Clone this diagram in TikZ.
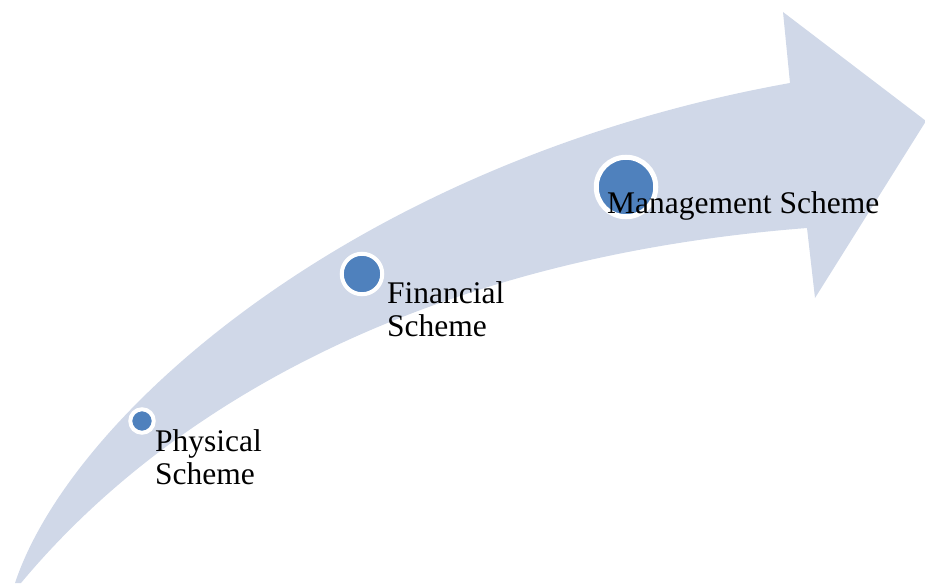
\documentclass[tikz,border=0pt]{standalone}
\usepackage{fontspec}
\setmainfont{Liberation Serif}
\definecolor{bandblue}{RGB}{208,216,232}
\definecolor{dotblue}{RGB}{79,129,189}
\begin{document}
\begin{tikzpicture}
      [x=1pt,y=-1pt,stage node/.style={circle,fill=dotblue,draw=white,line width=4pt,inner sep=0pt},
      scheme label/.style={font=\fontsize{31.5}{33}\selectfont,align=left,inner sep=0pt}]
      \useasboundingbox (0,0) rectangle (925,583);
      % the curved arrow
      \fill[bandblue] (15,583) .. controls (72,412) and (360,160) .. (790,83)
        -- (783,12) -- (926,121) -- (815,298) -- (807,228)
        .. controls (420,258) and (165,410) .. (21,583) -- cycle;
      \node[stage node,minimum size=23.5pt] (p) at (142,421) {};
      \node[stage node,minimum size=40.5pt] (f) at (362,274) {};
      \node[stage node,minimum size=59.5pt,line width=5pt] (m) at (626,187) {};
      \node[scheme label,anchor=north west] (pt) at (155,429) {Physical\\Scheme};
      \node[scheme label,anchor=north west] (ft) at (387,281) {Financial\\Scheme};
      \node[scheme label,anchor=base west] (mt) at (607,213) {Management Scheme};
    \end{tikzpicture}
\end{document}
